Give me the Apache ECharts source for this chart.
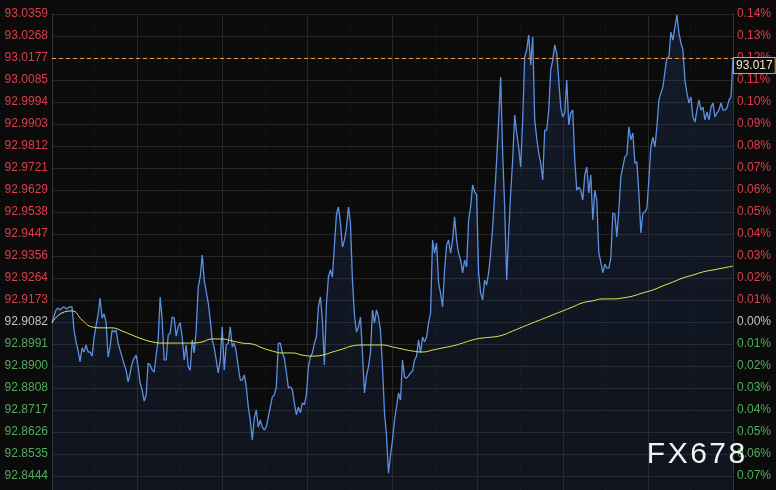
<!DOCTYPE html>
<html>
<head>
<meta charset="utf-8">
<script src="https://cdn.jsdelivr.net/npm/echarts@6/dist/echarts.min.js"></script>
<style>
  html, body { margin: 0; padding: 0; background: #0b0b0b; }
  #chart { width: 776px; height: 490px; }
</style>
</head>
<body>
<div id="chart"></div>
<script>
// Left axis tick labels (top to bottom)
const priceTicks = ['93.0359','93.0268','93.0177','93.0085','92.9994','92.9903','92.9812','92.9721','92.9629','92.9538','92.9447','92.9356','92.9264','92.9173','92.9082','92.8991','92.8900','92.8808','92.8717','92.8626','92.8535','92.8444'];
// Right axis tick labels (top to bottom)
const pctTicks = ['0.14%','0.13%','0.12%','0.11%','0.10%','0.09%','0.08%','0.07%','0.06%','0.05%','0.04%','0.03%','0.02%','0.01%','0.00%','0.01%','0.02%','0.03%','0.04%','0.05%','0.06%','0.07%'];

// Price series (per time step)
const prices = [
  92.9079, 92.9107, 92.9132, 92.9141, 92.9132, 92.9141, 92.9145, 92.9137, 92.9141, 92.9145, 92.9145,
  92.9049, 92.9000, 92.8966, 92.8917, 92.8975, 92.8958, 92.8987, 92.8958, 92.8958, 92.8941, 92.9016,
  92.9066, 92.9112, 92.9182, 92.9099, 92.9116, 92.9082, 92.8937, 92.8979, 92.9049, 92.9041, 92.9049,
  92.8995, 92.8966, 92.8937, 92.8908, 92.8883, 92.8834, 92.8871, 92.8912, 92.8933, 92.8945, 92.8896,
  92.8830, 92.8801, 92.8755, 92.8780, 92.8912, 92.8904, 92.8883, 92.8875, 92.8945, 92.9008, 92.9186,
  92.9091, 92.8925, 92.8925, 92.9028, 92.9037, 92.9103, 92.9099, 92.9024, 92.9062, 92.9079, 92.9020,
  92.8925, 92.8987, 92.8896, 92.8883, 92.9008, 92.8954, 92.9049, 92.9227, 92.9269, 92.9360, 92.9256,
  92.9207, 92.9162, 92.9091, 92.9008, 92.8975, 92.8925, 92.8871, 92.8925, 92.9062, 92.8883, 92.8987,
  92.8995, 92.9062, 92.8979, 92.8995, 92.8958, 92.8896, 92.8842, 92.8842, 92.8863, 92.8813, 92.8730,
  92.8676, 92.8593, 92.8685, 92.8718, 92.8647, 92.8676, 92.8647, 92.8635, 92.8647, 92.8689, 92.8730,
  92.8772, 92.8780, 92.8813, 92.8995, 92.8995, 92.8954, 92.8933, 92.8875, 92.8809, 92.8813, 92.8801,
  92.8747, 92.8697, 92.8730, 92.8706, 92.8747, 92.8739, 92.8780, 92.8896, 92.8937, 92.8954, 92.8995,
  92.9020, 92.9145, 92.9186, 92.9091, 92.8904, 92.9153, 92.9269, 92.9298, 92.9269, 92.9401, 92.9526,
  92.9559, 92.9493, 92.9393, 92.9422, 92.9472, 92.9559, 92.9493, 92.9256, 92.9112, 92.9041, 92.9062,
  92.9103, 92.8954, 92.8788, 92.8859, 92.8896, 92.8954, 92.9132, 92.9079, 92.9132, 92.9103, 92.9049,
  92.8896, 92.8706, 92.8614, 92.8456, 92.8531, 92.8593, 92.8676, 92.8730, 92.8788, 92.8759, 92.8925,
  92.8854, 92.8850, 92.8859, 92.8871, 92.8879, 92.8925, 92.8941, 92.9008, 92.8954, 92.9020, 92.9000,
  92.9020, 92.9079, 92.9120, 92.9422, 92.9368, 92.9410, 92.9244, 92.9203, 92.9145, 92.9298, 92.9401,
  92.9422, 92.9368, 92.9422, 92.9518, 92.9422, 92.9368, 92.9339, 92.9286, 92.9339, 92.9310, 92.9505,
  92.9559, 92.9650, 92.9621, 92.9609, 92.9286, 92.9203, 92.9174, 92.9256, 92.9236, 92.9286, 92.9368,
  92.9476, 92.9609, 92.9754, 92.9920, 93.0098, 92.9783, 92.9559, 92.9256, 92.9451, 92.9617, 92.9754,
  92.9940, 92.9866, 92.9808, 92.9725, 92.9920, 93.0181, 93.0210, 93.0272, 93.0148, 93.0264, 92.9920,
  92.9845, 92.9783, 92.9741, 92.9671, 92.9878, 92.9878, 92.9961, 93.0127, 93.0168, 93.0231, 93.0197,
  93.0085, 92.9973, 92.9932, 92.9949, 93.0085, 92.9899, 92.9949, 92.9961, 92.9754, 92.9629, 92.9642,
  92.9629, 92.9588, 92.9692, 92.9725, 92.9617, 92.9692, 92.9505, 92.9629, 92.9588, 92.9368, 92.9331,
  92.9286, 92.9323, 92.9306, 92.9306, 92.9348, 92.9534, 92.9530, 92.9435, 92.9547, 92.9684, 92.9725,
  92.9766, 92.9775, 92.9891, 92.9837, 92.9866, 92.9741, 92.9746, 92.9617, 92.9451, 92.9534, 92.9538,
  92.9555, 92.9671, 92.9808, 92.9849, 92.9808, 92.9891, 93.0003, 93.0032, 93.0056, 93.0119, 93.0177,
  93.0181, 93.0284, 93.0251, 93.0305, 93.0355, 93.0280, 93.0239, 93.0210, 93.0085, 93.0032, 92.9990,
  93.0015, 92.9932, 92.9911, 92.9961, 93.0003, 92.9961, 92.9973, 92.9920, 92.9953, 92.9920, 92.9973,
  92.9990, 92.9932, 92.9949, 92.9961, 92.9990, 92.9961, 92.9961, 92.9969, 93.0003, 93.0015, 93.0177
];

// Moving average (sampled more coarsely over the same time span)
const maPrices = [
  92.9079, 92.9120, 92.9128, 92.9091, 92.9062, 92.9058, 92.9058, 92.9045, 92.9028, 92.9012,
  92.9000, 92.8995, 92.8995, 92.8995, 92.8995, 92.9000, 92.9012, 92.9012, 92.9004, 92.8995,
  92.8991, 92.8975, 92.8962, 92.8954, 92.8954, 92.8945, 92.8941, 92.8945, 92.8958, 92.8970,
  92.8983, 92.8987, 92.8987, 92.8987, 92.8979, 92.8970, 92.8962, 92.8958, 92.8966, 92.8975,
  92.8983, 92.8995, 92.9008, 92.9016, 92.9020, 92.9028, 92.9045, 92.9062, 92.9079, 92.9095,
  92.9112, 92.9128, 92.9145, 92.9162, 92.9170, 92.9178, 92.9178, 92.9182, 92.9190, 92.9203,
  92.9215, 92.9232, 92.9248, 92.9265, 92.9277, 92.9290, 92.9298, 92.9306, 92.9314
];

const watermark = 'F\u200AX\u200A6\u200A7\u200A8';

// ---- scale helpers (tick units) ----
const nSteps = priceTicks.length - 1;
const topP = parseFloat(priceTicks[0]);
const botP = parseFloat(priceTicks[nSteps]);
const stepP = (topP - botP) / nSteps;
const toUnits = p => (p - botP) / stepP;
const zeroIdx = pctTicks.indexOf('0.00%');
const lastPrice = prices[prices.length - 1];

const RED = '#dc3f4b', GREEN = '#4fae5c', GRAY = '#c4c4c4';
const FONT = '"Liberation Sans", Arial, sans-serif';
const DASH = '#ee9a4c';

function tickIndex(v) {
  const r = Math.round(v);
  if (Math.abs(v - r) > 1e-6) return -1;
  const i = nSteps - r;
  return (i < 0 || i > nSteps) ? -1 : i;
}
function tickColor(v) {
  const i = tickIndex(v);
  if (i < 0) return GRAY;
  return i < zeroIdx ? RED : (i === zeroIdx ? GRAY : GREEN);
}

const chart = echarts.init(document.getElementById('chart'), null, { renderer: 'canvas' });
chart.setOption({
  animation: false,
  backgroundColor: '#0b0b0b',
  grid: { left: 52, right: 43, top: 14, height: 484, containLabel: false, outerBoundsMode: 'none' },
  xAxis: [
    { type: 'category', boundaryGap: false, data: prices.map((_, i) => i), show: false },
    { type: 'value', min: 0, max: 8, interval: 1, position: 'bottom',
      axisLine: { show: false }, axisTick: { show: false }, axisLabel: { show: false },
      splitLine: { show: true, lineStyle: { color: '#262626', width: 1 } },
      minorTick: { show: false, splitNumber: 2 },
      minorSplitLine: { show: true, lineStyle: { color: '#1a1a1a', width: 1, type: [2, 3] } } },
    { type: 'category', boundaryGap: false, data: maPrices.map((_, i) => i), show: false }
  ],
  yAxis: [
    { type: 'value', min: -1, max: nSteps, interval: 1, position: 'left',
      axisLine: { show: true, lineStyle: { color: '#333' } },
      axisTick: { show: false },
      splitLine: { show: true, lineStyle: { color: '#262626', width: 1 } },
      axisLabel: { margin: 4, fontSize: 12, fontFamily: FONT,
        formatter: v => { const i = tickIndex(v); return i < 0 ? '' : priceTicks[i]; },
        color: v => tickColor(v) } },
    { type: 'value', min: -1, max: nSteps, interval: 1, position: 'right',
      axisLine: { show: true, lineStyle: { color: '#333' } },
      axisTick: { show: false },
      splitLine: { show: false },
      axisLabel: { margin: 4, fontSize: 12, fontFamily: FONT,
        formatter: v => { const i = tickIndex(v); return i < 0 ? '' : pctTicks[i]; },
        color: v => tickColor(v) } }
  ],
  series: [
    { type: 'line', xAxisIndex: 0, yAxisIndex: 0, data: prices.map(toUnits),
      symbol: 'none',
      lineStyle: { color: '#5b8fe2', width: 1.3 },
      itemStyle: { color: '#5b8fe2' },
      areaStyle: { origin: 'start', color: new echarts.graphic.LinearGradient(0, 0, 0, 1, [
        { offset: 0, color: 'rgba(48,85,150,0.30)' },
        { offset: 1, color: 'rgba(40,70,130,0.22)' }
      ]) },
      markLine: {
        silent: true, symbol: ['none', 'none'],
        lineStyle: { color: DASH, width: 1, type: [4, 3], opacity: 1 },
        emphasis: { disabled: true },
        label: { show: true, position: 'end', distance: 1, verticalAlign: 'top',
          formatter: () => (Math.floor(lastPrice * 1000) / 1000).toFixed(3),
          color: '#f3e6cf', fontSize: 12, fontFamily: FONT,
          backgroundColor: '#0b0b0b', borderColor: '#c9a27a', borderWidth: 1,
          padding: [2, 2, 1, 2] },
        data: [{ yAxis: toUnits(lastPrice), lineStyle: { color: DASH, type: [4, 3] } }]
      }
    },
    { type: 'line', xAxisIndex: 2, yAxisIndex: 0, data: maPrices.map(toUnits),
      symbol: 'none', smooth: true,
      lineStyle: { color: '#e6e65c', width: 1 } }
  ],
  graphic: [
    { type: 'text', x: 696, y: 455, z: 100,
      style: { text: watermark, font: '30px "Liberation Sans", Arial, sans-serif',
        fill: '#f2f2f2', textAlign: 'center', textVerticalAlign: 'middle' } }
  ]
});
</script>
</body>
</html>
